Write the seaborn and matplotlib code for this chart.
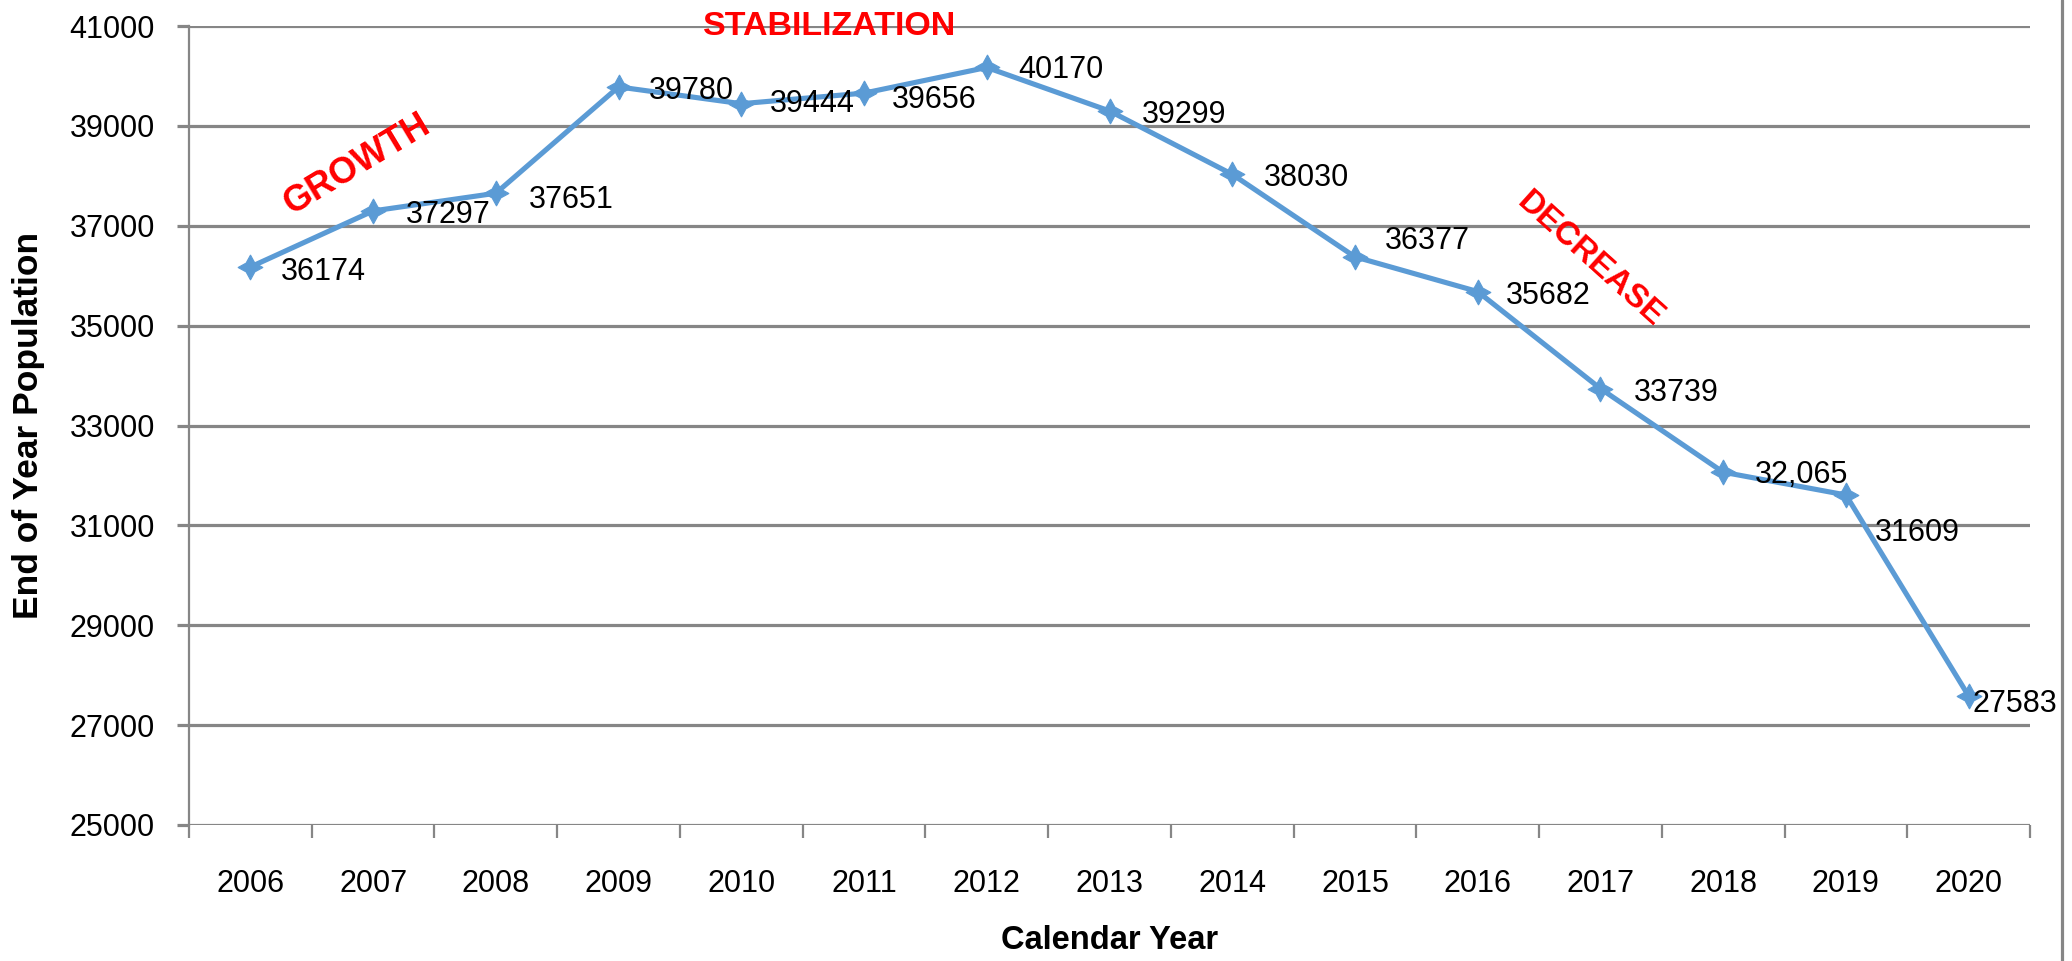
import numpy as np
import pandas as pd
import matplotlib
matplotlib.use("Agg")
import matplotlib.pyplot as plt
from matplotlib.lines import Line2D
from matplotlib.ticker import FixedLocator, NullFormatter
import seaborn as sns

# ---- data ----
years = ["2006", "2007", "2008", "2009", "2010", "2011", "2012", "2013",
         "2014", "2015", "2016", "2017", "2018", "2019", "2020"]
population = [36174, 37297, 37651, 39780, 39444, 39656, 40170, 39299,
              38030, 36377, 35682, 33739, 32065, 31609, 27583]
point_labels = ["36174", "37297", "37651", "39780", "39444", "39656", "40170",
                "39299", "38030", "36377", "35682", "33739", "32,065",
                "31609", "27583"]
y_ticks = [25000, 27000, 29000, 31000, 33000, 35000, 37000, 39000, 41000]
phase_labels = ["GROWTH", "STABILIZATION", "DECREASE"]

# ---- styling / layout ----
sns.set_theme(style="white")
plt.rcParams["font.family"] = ["Liberation Sans", "DejaVu Sans"]

W, H, DPI = 2072, 961, 100
fig = plt.figure(figsize=(W / DPI, H / DPI), dpi=DPI)
ax = fig.add_axes([189 / W, 1 - 825 / H, 1841 / W, 799 / H])

df = pd.DataFrame({"year": years, "population": population})
line_color = "#5B9BD5"
grid_color = "#868686"

sns.lineplot(data=df, x="year", y="population", ax=ax, color=line_color,
             linewidth=3.7, marker=(4, 1, 0), markersize=18,
             markeredgecolor=line_color, markerfacecolor=line_color,
             zorder=3)

ax.set_xlim(-0.5, len(years) - 0.5)
ax.set_ylim(y_ticks[0], y_ticks[-1])
ax.set_yticks(y_ticks)

# grid and spines
ax.yaxis.grid(True, color=grid_color, linewidth=2.3)
ax.xaxis.grid(False)
for s in ["top", "right", "bottom"]:
    ax.spines[s].set_visible(False)
ax.spines["left"].set_color(grid_color)
ax.spines["left"].set_linewidth(1.6)

# ticks
ax.tick_params(axis="y", which="major", length=8.6, width=2.3,
               color=grid_color, labelsize=22, pad=16, left=True,
               labelcolor="black")
ax.tick_params(axis="x", which="major", length=0, labelsize=22, pad=32,
               labelcolor="black")
ax.xaxis.set_minor_locator(FixedLocator(np.arange(-0.5, len(years), 1.0)))
ax.xaxis.set_minor_formatter(NullFormatter())
ax.tick_params(axis="x", which="minor", length=9.4, width=1.6,
               color=grid_color, bottom=True)

# axis labels
ax.set_xlabel("Calendar Year", fontsize=23.5, fontweight="bold", color="black")
ax.set_ylabel("End of Year Population", fontsize=25.5, fontweight="bold",
              color="black")
ax.xaxis.label.set_va("center")
ax.yaxis.label.set_va("center")
ax.xaxis.set_label_coords(0.5, -0.145)
ax.yaxis.set_label_coords(-0.087, 0.5)

# data labels (offsets in pixels: right, down)
dx = [30, 33, 33, 30, 29, 28, 31, 32, 32, 30, 28, 33, 32, 29, 4]
dy = [5, 4, 7, 4, 0, 7, 3, 4, 4, -16, 4, 4, 3, 38, 8]
for i, (v, t) in enumerate(zip(population, point_labels)):
    ax.annotate(t, (i, v), xytext=(dx[i], -dy[i]), textcoords="offset pixels",
                ha="left", va="center", fontsize=22, color="black",
                zorder=4, annotation_clip=False)

# phase annotations
red = "#FF0000"
ax.text(0.87, 38217, phase_labels[0], color=red, fontsize=26,
        fontweight="bold", rotation=31, ha="center", va="center",
        rotation_mode="anchor", clip_on=False)
ax.text(4.72, 40990, phase_labels[1], color=red, fontsize=24.5,
        fontweight="bold", rotation=0, ha="center", va="center",
        clip_on=False)
ax.text(10.92, 36314, phase_labels[2], color=red, fontsize=24,
        fontweight="bold", rotation=-42, ha="center", va="center",
        rotation_mode="anchor", clip_on=False)

# right-hand chart border
fig.add_artist(Line2D([2062 / W, 2062 / W], [0, 1], color=grid_color,
                      linewidth=2.3, transform=fig.transFigure))

fig.savefig("out.png", dpi=DPI)
